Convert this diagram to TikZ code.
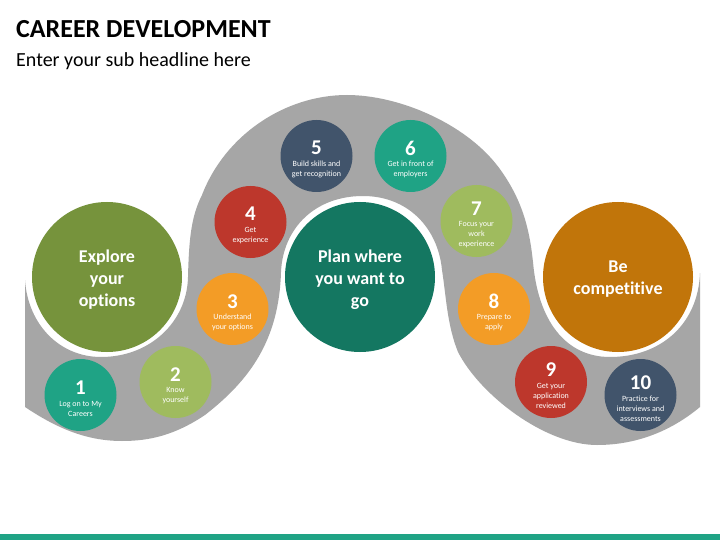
\documentclass[tikz,border=0pt]{standalone}
\usepackage{fontspec}
\setmainfont[Ligatures=NoCommon]{Carlito}
\definecolor{band}{HTML}{A6A6A6}
\definecolor{cteal}{HTML}{1FA385}
\definecolor{clime}{HTML}{9FBB5E}
\definecolor{corange}{HTML}{F39C26}
\definecolor{cred}{HTML}{BD372C}
\definecolor{cnavy}{HTML}{41546B}
\definecolor{colive}{HTML}{76933C}
\definecolor{cdeep}{HTML}{147761}
\definecolor{cochre}{HTML}{C1750A}
\tikzset{
 x=1pt,y=-1pt,
 bigc/.style={circle,minimum size=150pt,inner sep=0pt},
 bigt/.style={text=white,align=center,inner sep=0pt,font=\fontsize{18}{22}\selectfont\bfseries},
 smallc/.style={circle,minimum size=72pt,inner sep=0pt},
 smallt/.style={text=white,align=center,inner sep=0pt,font=\fontsize{8}{10}\selectfont},
 numb/.style={text=white,font=\fontsize{21}{21}\selectfont\bfseries,inner sep=0pt},
 head/.style={anchor=base west,inner sep=0pt}
}
\newcommand{\numcirc}[6]{%
 \node[smallc,fill=#4] (c#1) at (#2,#3) {};
 \node[numb] (n#1) at (#2,#3-#6+1) {#1};
 \node[smallt] (t#1) at (#2,#3+13.5) {#5};
}
\begin{document}
\begin{tikzpicture}
\useasboundingbox (0,0) rectangle (720,540);
\fill[white] (0,0) rectangle (720,540);
\fill[cteal] (0,534) rectangle (720,540);
\node[head,font=\fontsize{26}{26}\selectfont\bfseries] (title) at (16,38) {CAREER DEVELOPMENT};
\node[head,font=\fontsize{20}{20}\selectfont] (sub) at (16,66.5) {Enter your sub headline here};
\fill[band] (25,280)
 .. controls (28,325) and (60,357) .. (101,357)
 .. controls (150,357) and (187,322) .. (188,277)
 .. controls (189,235) and (192,215) .. (202,195)
 .. controls (225,135) and (285,95) .. (347,95)
 .. controls (400,95) and (470,125) .. (502,172)
 .. controls (525,205) and (530,235) .. (533,262)
 .. controls (538,320) and (565,357) .. (610,357)
 .. controls (660,357) and (698,325) .. (700,273)
 -- (700,407)
 .. controls (670,432) and (635,445) .. (597,445)
 .. controls (545,445) and (480,395) .. (458,352)
 .. controls (447,325) and (446,295) .. (442,270)
 .. controls (438,228) and (408,196) .. (363,196)
 .. controls (315,196) and (283,228) .. (281,272)
 .. controls (279,340) and (250,380) .. (205,415)
 .. controls (175,435) and (150,441) .. (122,441)
 .. controls (85,441) and (55,427) .. (25,407)
 -- cycle;
\node[bigc,fill=colive] (explore) at (107,277) {};
\node[bigt] (exploret) at (107,279.5) {Explore\\your\\options};
\node[bigc,fill=cdeep] (plan) at (360,277) {};
\node[bigt] (plant) at (360,279.5) {Plan where\\you want to\\go};
\node[bigc,fill=cochre] (comp) at (618,277) {};
\node[bigt] (compt) at (618,279) {Be\\competitive};
\numcirc{1}{80.5}{395}{cteal}{Log on to My\\Careers}{8.5}
\numcirc{2}{175.5}{382}{clime}{Know\\yourself}{8.5}
\numcirc{3}{232.5}{309}{corange}{Understand\\your options}{8.5}
\numcirc{4}{250.5}{222}{cred}{Get\\experience}{9}
\numcirc{5}{316.5}{156}{cnavy}{Build skills and\\get recognition}{9}
\numcirc{6}{410.5}{156}{cteal}{Get in front of\\employers}{9}
\numcirc{7}{476.5}{221}{clime}{Focus your\\work\\experience}{13}
\numcirc{8}{494}{309}{corange}{Prepare to\\apply}{9}
\numcirc{9}{551}{382}{cred}{Get your\\application\\reviewed}{13}
\numcirc{10}{640.5}{395}{cnavy}{Practice for\\interviews and\\assessments}{13}
\end{tikzpicture}
\end{document}
